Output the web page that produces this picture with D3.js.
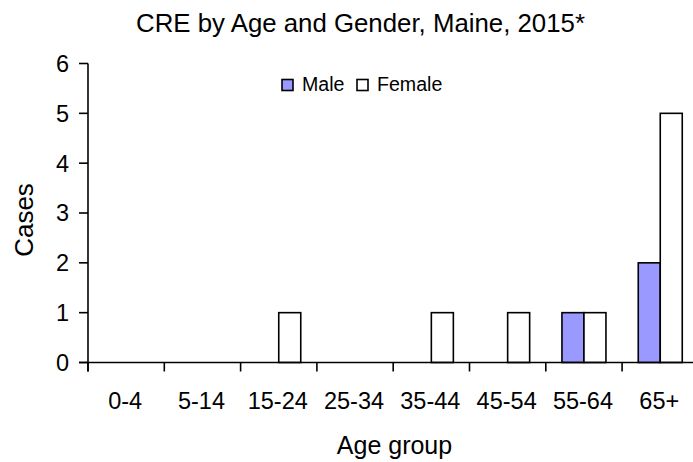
<!DOCTYPE html>
<html>
<head>
<meta charset="utf-8">
<script src="https://cdn.jsdelivr.net/npm/d3@7"></script>
<style>
  html, body { margin: 0; padding: 0; background: #fff; }
  svg text { font-family: "Liberation Sans", Arial, sans-serif; fill: #000; }
</style>
</head>
<body>
<div id="chart"></div>
<script>
// === data ===
const ageGroups = ["0-4", "5-14", "15-24", "25-34", "35-44", "45-54", "55-64", "65+"];
const maleCases = [0, 0, 0, 0, 0, 0, 1, 2];
const femaleCases = [0, 0, 1, 0, 1, 1, 1, 5];
const yTicks = [0, 1, 2, 3, 4, 5, 6];
const seriesNames = ["Male", "Female"];
const seriesColors = ["#9999ff", "#ffffff"];

const width = 693, height = 462;

const svg = d3.select("#chart").append("svg")
  .attr("width", width)
  .attr("height", height);

const x = d3.scaleBand().domain(ageGroups).range([88, 698.4]).padding(0);
const x1 = d3.scaleBand().domain(seriesNames).range([0, x.bandwidth()])
  .paddingInner(0).paddingOuter(0.734);
const y = d3.scaleLinear().domain([0, 6]).range([362.5, 63.5]);

// bars
const rows = [];
ageGroups.forEach((g, i) => {
  rows.push({ group: g, series: "Male", value: maleCases[i] });
  rows.push({ group: g, series: "Female", value: femaleCases[i] });
});

svg.append("g").selectAll("rect")
  .data(rows.filter(d => d.value > 0))
  .join("rect")
  .attr("x", d => x(d.group) + x1(d.series))
  .attr("y", d => y(d.value))
  .attr("width", x1.bandwidth())
  .attr("height", d => y(0) - y(d.value))
  .attr("fill", d => seriesColors[seriesNames.indexOf(d.series)])
  .attr("stroke", "#000")
  .attr("stroke-width", 1.6);

// y axis
const yAxis = svg.append("g").attr("transform", "translate(88,0)");
yAxis.append("line")
  .attr("x1", 0).attr("x2", 0)
  .attr("y1", y(6)).attr("y2", y(0) + 9)
  .attr("stroke", "#000").attr("stroke-width", 1.6);
yAxis.selectAll(".tick")
  .data(yTicks)
  .join("g")
  .attr("transform", d => `translate(0,${y(d)})`)
  .call(g => g.append("line").attr("x1", -9).attr("x2", 0)
    .attr("stroke", "#000").attr("stroke-width", 1.6))
  .call(g => g.append("text")
    .attr("x", -19)
    .attr("dy", "0.36em")
    .attr("text-anchor", "end")
    .style("font-size", "23.5px")
    .text(d => d));

// x axis
const xAxis = svg.append("g").attr("transform", `translate(0,${y(0)})`);
xAxis.append("line")
  .attr("x1", 79).attr("x2", width)
  .attr("stroke", "#000").attr("stroke-width", 1.6);
xAxis.selectAll(".tick")
  .data(ageGroups)
  .join("line")
  .attr("x1", d => x(d)).attr("x2", d => x(d))
  .attr("y1", 0).attr("y2", 9)
  .attr("stroke", "#000").attr("stroke-width", 1.6);
xAxis.selectAll(".lbl")
  .data(ageGroups)
  .join("text")
  .attr("x", d => x(d) + x.bandwidth() / 2 - 1)
  .attr("y", 46.5)
  .attr("text-anchor", "middle")
  .style("font-size", "23.5px")
  .text(d => d);

// titles
svg.append("text")
  .attr("x", 360.5).attr("y", 31.5)
  .attr("text-anchor", "middle")
  .style("font-size", "25.8px")
  .text("CRE by Age and Gender, Maine, 2015*");

svg.append("text")
  .attr("x", 394.5).attr("y", 454)
  .attr("text-anchor", "middle")
  .style("font-size", "25px")
  .text("Age group");

svg.append("text")
  .attr("transform", "translate(33,220) rotate(-90)")
  .attr("text-anchor", "middle")
  .style("font-size", "26px")
  .text("Cases");

// legend
const legendX = [282, 357];
const legend = svg.append("g");
seriesNames.forEach((name, i) => {
  legend.append("rect")
    .attr("x", legendX[i]).attr("y", 79.5)
    .attr("width", 11).attr("height", 11)
    .attr("fill", seriesColors[i])
    .attr("stroke", "#000").attr("stroke-width", 1.6);
  legend.append("text")
    .attr("x", legendX[i] + 20).attr("y", 90.7)
    .style("font-size", "19.6px")
    .text(name);
});
</script>
</body>
</html>
